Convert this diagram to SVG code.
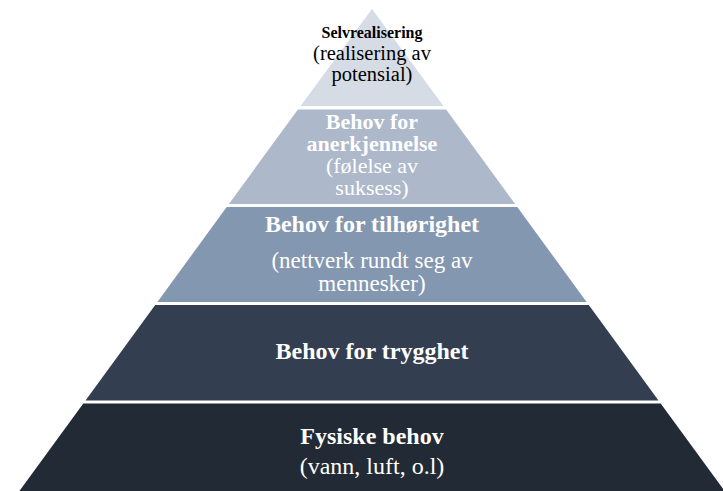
<svg xmlns="http://www.w3.org/2000/svg" width="723" height="491" viewBox="0 0 723 491">
<style>
text{font-family:"Liberation Serif","Times New Roman",serif;text-anchor:middle}
.b{font-weight:bold}
.w{fill:#ffffff}
.k{fill:#000000}
</style>
<rect width="723" height="491" fill="#ffffff"/>
<g id="tier1">
<polygon points="372,9 443.5,106 300.5,106" fill="#d6dce5"/>
<text class="b k" x="372" y="38" font-size="16">Selvrealisering</text>
<text class="k" x="372" y="60" font-size="20.5">(realisering av</text>
<text class="k" x="372" y="81" font-size="20.5">potensial)</text>
</g>
<g id="tier2">
<polygon points="297.9,109.5 446.1,109.5 515.1,204 228.9,204" fill="#adb9ca"/>
<text class="b w" x="372" y="129" font-size="22">Behov for</text>
<text class="b w" x="372" y="151" font-size="22">anerkjennelse</text>
<text class="w" x="372" y="173" font-size="22">(følelse av</text>
<text class="w" x="372" y="195" font-size="22">suksess)</text>
</g>
<g id="tier3">
<polygon points="226.7,207 517.3,207 586.6,302 157.4,302" fill="#8497b0"/>
<text class="b w" x="372" y="232" font-size="24">Behov for tilhørighet</text>
<text class="w" x="372" y="268" font-size="23">(nettverk rundt seg av</text>
<text class="w" x="372" y="291" font-size="23">mennesker)</text>
</g>
<g id="tier4">
<polygon points="155.2,305 588.8,305 658.5,400.5 85.5,400.5" fill="#333f50"/>
<text class="b w" x="372" y="359" font-size="24">Behov for trygghet</text>
</g>
<g id="tier5">
<polygon points="83.3,403.5 660.7,403.5 724.6,491 19.4,491" fill="#222a35"/>
<text class="b w" x="372" y="444" font-size="24">Fysiske behov</text>
<text class="w" x="372" y="474" font-size="24">(vann, luft, o.l)</text>
</g>
</svg>
